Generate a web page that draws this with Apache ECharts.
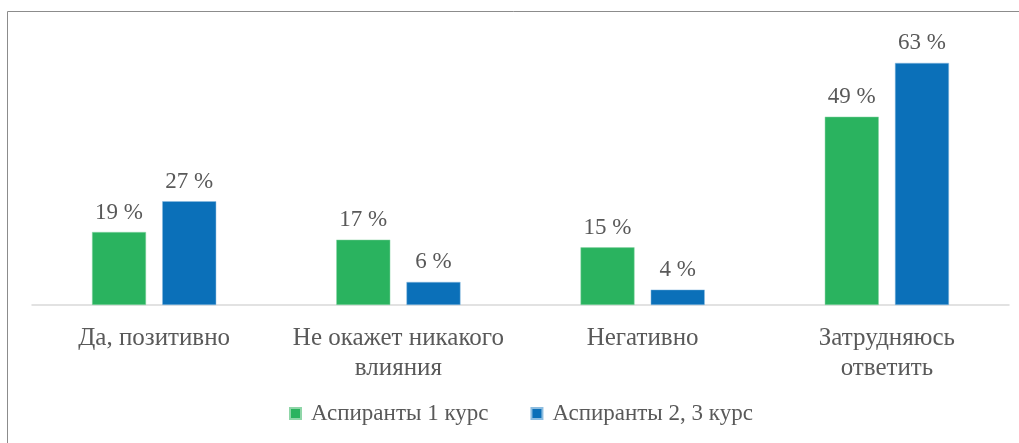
<!DOCTYPE html>
<html>
<head>
<meta charset="utf-8">
<script src="https://cdn.jsdelivr.net/npm/echarts@6/dist/echarts.min.js"></script>
<style>
  html, body { margin: 0; padding: 0; background: #fff; }
  #chart { width: 1019px; height: 443px; }
</style>
</head>
<body>
<div id="chart"></div>
<script>
// данные диаграммы
const categories = ['Да, позитивно', 'Не окажет никакого\nвлияния', 'Негативно', 'Затрудняюсь\nответить']
const seriesNames = ['Аспиранты 1 курс', 'Аспиранты 2, 3 курс']
const firstYear = [19, 17, 15, 49]
const laterYears = [27, 6, 4, 63]

const textColor = '#595959'
const font = '"Liberation Serif", "Times New Roman", serif'

const chart = echarts.init(document.getElementById('chart'))

const labelOpt = {
  show: true,
  position: 'top',
  distance: 8,
  formatter: p => p.value + ' %',
  fontFamily: font,
  fontSize: 23,
  color: textColor
}

chart.setOption({
  animation: false,
  textStyle: { fontFamily: font },
  // рамка вокруг диаграммы
  graphic: [{
    type: 'rect',
    shape: { x: 7.5, y: 11.5, width: 1030, height: 450 },
    style: { fill: 'none', stroke: '#8c8c8c', lineWidth: 1 },
    silent: true
  }],
  grid: { left: 32, right: 10, top: 36, bottom: 138 },
  legend: {
    data: seriesNames,
    bottom: 13,
    left: 284,
    icon: 'rect',
    itemWidth: 11,
    itemHeight: 11,
    itemGap: 42,
    textStyle: { fontFamily: font, fontSize: 23, color: textColor, padding: [0, 0, 0, 5] }
  },
  xAxis: {
    type: 'category',
    data: categories,
    axisLine: { lineStyle: { color: '#d9d9d9', width: 1.5 } },
    axisTick: { show: false },
    axisLabel: {
      interval: 0,
      margin: 18,
      fontFamily: font,
      fontSize: 25,
      lineHeight: 30,
      color: textColor
    }
  },
  yAxis: {
    type: 'value',
    min: 0,
    max: 70,
    show: false
  },
  series: [
    {
      name: seriesNames[0],
      type: 'bar',
      data: firstYear,
      barWidth: 54,
      barGap: '30%',
      itemStyle: { color: '#2ab35f', borderColor: '#8fd6a8', borderWidth: 0.5 },
      label: labelOpt
    },
    {
      name: seriesNames[1],
      type: 'bar',
      data: laterYears,
      barWidth: 54,
      itemStyle: { color: '#0b70b9', borderColor: '#8dbde0', borderWidth: 0.5 },
      label: labelOpt
    }
  ]
})
</script>
</body>
</html>
